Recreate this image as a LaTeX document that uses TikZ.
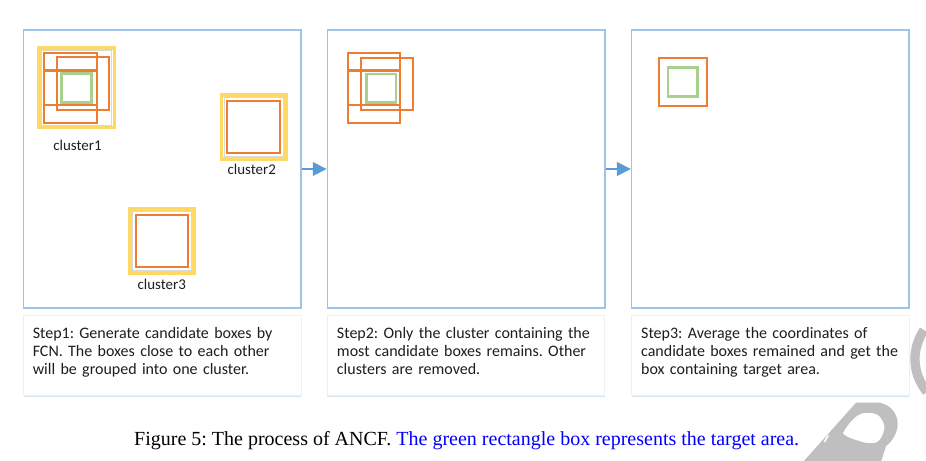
\documentclass[tikz,border=0pt]{standalone}
\usepackage{fontspec}
\setmainfont{Carlito}
\newfontfamily\capfont{Liberation Serif}
\usetikzlibrary{arrows.meta}
\definecolor{panelblue}{RGB}{157,195,230}
\definecolor{arrowblue}{RGB}{91,155,213}
\definecolor{boxorange}{RGB}{237,125,49}
\definecolor{boxgreen}{RGB}{169,209,142}
\definecolor{boxyellow}{RGB}{255,217,102}
\definecolor{wmgray}{RGB}{191,191,191}
\definecolor{shadowblue}{RGB}{214,228,243}
\definecolor{txtcol}{RGB}{30,30,30}
\frenchspacing
\begin{document}
\begin{tikzpicture}[x=0.75pt,y=-0.75pt,
  panel/.style={draw=panelblue,line width=1.1pt,fill=white,minimum width=208pt,minimum height=208.5pt,inner sep=0pt},
  textbox/.style={fill=white,draw=black!6,line width=0.4pt,minimum width=208pt,minimum height=60pt,inner sep=0pt},
  shadowbox/.style={fill=shadowblue,minimum width=208pt,minimum height=60pt,inner sep=0pt},
  steptext/.style={anchor=north west,inner sep=0pt,align=left,text width=205pt,font=\fontsize{12}{13.4}\selectfont,text=txtcol},
  clabel/.style={inner sep=0pt,font=\fontsize{11.2}{13}\selectfont,text=txtcol},
  obox/.style={draw=boxorange,line width=1.7pt},
  gbox/.style={draw=boxgreen,line width=2.2pt},
  ybox/.style={draw=boxyellow,line width=2.6pt},
  yinner/.style={draw=black!15,line width=0.5pt},
  flow/.style={draw=arrowblue,line width=2.2pt,-{Triangle[length=10.5pt,width=10pt]}},
  wm/.style={draw=wmgray,line width=7pt}
]
\useasboundingbox (0,0) rectangle (926,461);
% watermark fragment
\begin{scope}
\clip (0,0) rectangle (926,461);
\fill[wmgray,even odd rule] (803,462) -- (856,402.7) -- (879,402.7)
   .. controls (889,404) and (897,412) .. (897.7,423)
   .. controls (898,432) and (892,442) .. (886,446) -- (881,462) -- cycle
   (842.7,433.3) .. controls (848,424) and (855,415) .. (862.7,413.3)
   .. controls (870,412) and (876,413) .. (879.3,416)
   .. controls (883,420) and (885,425) .. (884.3,429.3)
   .. controls (883,436) and (880,441) .. (876,442.7)
   .. controls (870,444) and (864,443) .. (859.3,441)
   .. controls (852,439) and (846,437) .. (842.7,433.3) -- cycle;
\draw[white,line width=1.2pt] (828.3,435.3) -- (824.3,442);
\draw[wm] (924,330) .. controls (912,348) and (911,372) .. (927,392);
\end{scope}
% panels
\node[panel] (p1) at (162.25,169) {};
\node[panel] (p2) at (466.15,169) {};
\node[panel] (p3) at (770.35,169) {};
\draw[flow] (p1.east) -- (p2.west);
\draw[flow] (p2.east) -- (p3.west);
% panel 1, cluster 1
\draw[ybox] (39,48) rectangle (114.3,127.7);
\draw[yinner] (41.5,50.5) rectangle (111.8,125.2);
\draw[obox] (44,53.3) rectangle (96.7,122.7);
\draw[obox] (44,70.5) rectangle (96.7,105);
\draw[obox] (56.7,57.3) rectangle (109,110);
\draw[gbox] (61.7,73.3) rectangle (91.7,102.7);
\node[clabel] (c1) at (77.5,145) {cluster1};
% cluster 2
\draw[ybox] (221.7,95) rectangle (286,159);
\draw[yinner] (224.2,97.5) rectangle (283.5,156.5);
\draw[obox] (227.3,100.7) rectangle (280,153.3);
\node[clabel] (c2) at (251.7,169.5) {cluster2};
% cluster 3
\draw[ybox] (130,209) rectangle (194,273);
\draw[yinner] (132.5,211.5) rectangle (191.5,270.5);
\draw[obox] (135.7,215) rectangle (188.3,266.7);
\node[clabel] (c3) at (161.7,284) {cluster3};
% panel 2
\draw[obox] (348.3,53.3) rectangle (400,122.7);
\draw[obox] (348.3,70.5) rectangle (400,105);
\draw[obox] (360.7,57.7) rectangle (412.7,110);
\draw[gbox] (366.7,74) rectangle (396,102.7);
% panel 3
\draw[obox] (658.7,58) rectangle (706.7,105.7);
\draw[gbox] (668,67.7) rectangle (697.3,96.7);
% text boxes
\foreach \cx in {162.3,466.05,770.2}{
  \node[shadowbox] at (\cx,357) {};
}
\node[textbox] (t1) at (162.3,355) {};
\node[textbox] (t2) at (466.05,355) {};
\node[textbox] (t3) at (770.2,355) {};
\node[steptext] (s1) at (32.5,327.5) {Step1: Generate candidate boxes by\\FCN. The boxes close to each other\\will be grouped into one cluster.};
\node[steptext] (s2) at (336.7,327.5) {Step2: Only the cluster containing the\\most candidate boxes remains. Other\\clusters are removed.};
\node[steptext] (s3) at (640.9,327.5) {Step3: Average the coordinates of\\candidate boxes remained and get the\\box containing target area.};
% caption
\node[inner sep=0pt,font=\capfont\fontsize{15}{17}\selectfont] (cap) at (466.7,441) {Figure 5: The process of ANCF. \textcolor{blue}{The green rectangle box represents the target area.}};
\end{tikzpicture}
\end{document}
